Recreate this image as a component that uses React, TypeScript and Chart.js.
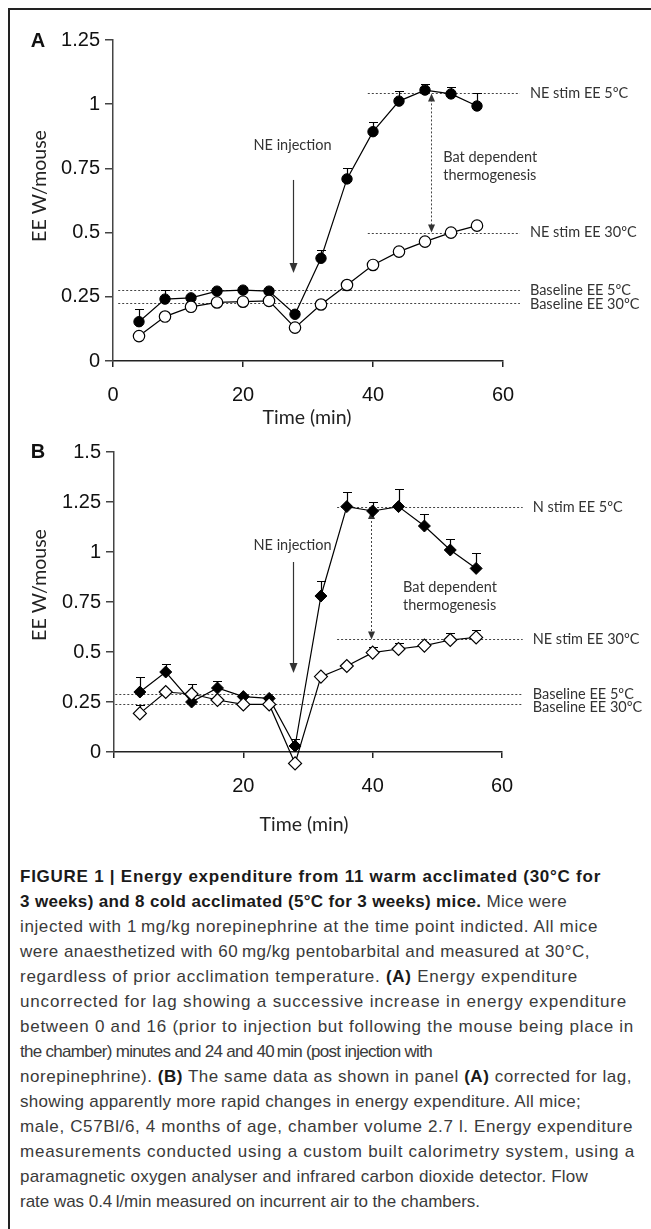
import React, { useEffect, useRef } from 'react';
import { Chart, registerables } from 'chart.js';

Chart.register(...registerables);

// ---------- data ----------
const timeMin = [4, 8, 12, 16, 20, 24, 28, 32, 36, 40, 44, 48, 52, 56];

// Panel A (uncorrected for lag)
const eeA5C = [0.153, 0.241, 0.246, 0.272, 0.276, 0.272, 0.182, 0.40, 0.709, 0.893, 1.012, 1.055, 1.04, 0.993];
const errA5C = [0.049, 0.035, 0.012, 0.01, 0.01, 0.01, 0.012, 0.032, 0.041, 0.036, 0.038, 0.025, 0.028, 0.049];
const eeA30C = [0.097, 0.173, 0.211, 0.228, 0.231, 0.234, 0.13, 0.22, 0.296, 0.374, 0.426, 0.465, 0.50, 0.527];
const errA30C = [0.01, 0.01, 0.01, 0.01, 0.01, 0.01, 0.01, 0.01, 0.01, 0.01, 0.01, 0.01, 0.01, 0.01];

// Panel B (corrected for lag)
const eeB5C = [0.30, 0.40, 0.25, 0.32, 0.277, 0.268, 0.03, 0.78, 1.227, 1.205, 1.227, 1.13, 1.01, 0.918];
const errB5C = [0.077, 0.038, 0.0, 0.035, 0.01, 0.01, 0.035, 0.077, 0.073, 0.043, 0.086, 0.06, 0.055, 0.077];
const eeB30C = [0.193, 0.30, 0.29, 0.26, 0.238, 0.238, -0.057, 0.377, 0.43, 0.497, 0.515, 0.532, 0.56, 0.573];
const errB30C = [0.04, 0.0, 0.05, 0.0, 0.0, 0.0, 0.0, 0.0, 0.01, 0.03, 0.03, 0.02, 0.035, 0.037];

// axes ticks
const xTicksA = [0, 20, 40, 60];
const yTicksA = [0, 0.25, 0.5, 0.75, 1, 1.25];
const xTicksB = [0, 20, 40, 60];
const xTickLabelsB = ['', '20', '40', '60'];
const yTicksB = [0, 0.25, 0.5, 0.75, 1, 1.25, 1.5];

// reference levels
const refValuesA = [1.042, 0.5, 0.276, 0.227];
const refStartsA = [39.2, 39.2, 0.8, 0.8];
const refLabelsA = ['NE stim EE 5\u00BAC', 'NE stim EE 30\u00BAC', 'Baseline EE 5\u00BAC', 'Baseline EE 30\u00BAC'];
const refValuesB = [1.223, 0.563, 0.29, 0.24];
const refStartsB = [34.5, 34.5, 0.2, 0.2];
const refLabelsB = ['N stim EE 5\u00BAC', 'NE stim EE 30\u00BAC', 'Baseline EE 5\u00BAC', 'Baseline EE 30\u00BAC'];

const captionLines: Array<Array<[string, boolean]>> = [
  [['FIGURE 1 | Energy expenditure from 11 warm acclimated (30\u00B0C for', true]],
  [['3 weeks) and 8 cold acclimated (5\u00B0C for 3 weeks) mice.', true], [' Mice were', false]],
  [['injected with 1\u2009mg/kg norepinephrine at the time point indicted. All mice', false]],
  [['were anaesthetized with 60\u2009mg/kg pentobarbital and measured at 30\u00B0C,', false]],
  [['regardless of prior acclimation temperature. ', false], ['(A)', true], [' Energy expenditure', false]],
  [['uncorrected for lag showing a successive increase in energy expenditure', false]],
  [['between 0 and 16 (prior to injection but following the mouse being place in', false]],
  [['the chamber) minutes and 24 and 40\u2009min (post injection with', false]],
  [['norepinephrine). ', false], ['(B)', true], [' The same data as shown in panel ', false], ['(A)', true], [' corrected for lag,', false]],
  [['showing apparently more rapid changes in energy expenditure. All mice;', false]],
  [['male, C57Bl/6, 4 months of age, chamber volume 2.7 l. Energy expenditure', false]],
  [['measurements conducted using a custom built calorimetry system, using a', false]],
  [['paramagnetic oxygen analyser and infrared carbon dioxide detector. Flow', false]],
  [['rate was 0.4\u2009l/min measured on incurrent air to the chambers.', false]],
];
// right edge (page px) of each caption line in the original layout
const captionLineEnds = [601, 567, 598, 590, 578, 627, 634, 392, 632, 581, 633, 635, 588, 480];
const CAPTION_LEFT = 20;

// ---------- drawing helpers ----------
const TICK_FONT = "'Liberation Sans', Arial, sans-serif";
const ANN_FONT = "Lato, 'Open Sans', sans-serif";

function arrowHead(ctx: CanvasRenderingContext2D, x: number, y: number, dir: number, w = 4, l = 9) {
  ctx.beginPath();
  ctx.moveTo(x, y);
  ctx.lineTo(x - w, y - dir * l);
  ctx.lineTo(x + w, y - dir * l);
  ctx.closePath();
  ctx.fill();
}

function makePlugin(o: any) {
  return {
    id: 'annot',
    beforeDatasetsDraw(chart: any) {
      const { ctx } = chart;
      const x = chart.scales.x;
      const y = chart.scales.y;
      ctx.save();
      ctx.strokeStyle = '#444';
      ctx.fillStyle = '#333';
      ctx.lineWidth = 1;
      ctx.setLineDash([2, 2]);
      const endPx = x.getPixelForValue(o.refEnd);
      o.refValues.forEach((v: number, i: number) => {
        const py = Math.round(y.getPixelForValue(v)) + 0.5;
        ctx.beginPath();
        ctx.moveTo(x.getPixelForValue(o.refStarts[i]), py);
        ctx.lineTo(endPx, py);
        ctx.stroke();
      });
      // dotted bat arrow
      const bx = Math.round(x.getPixelForValue(o.bat.x)) + 0.5;
      const bTop = y.getPixelForValue(o.bat.top);
      const bBot = y.getPixelForValue(o.bat.bottom);
      ctx.beginPath();
      ctx.moveTo(bx, bTop + 6);
      ctx.lineTo(bx, bBot - 6);
      ctx.stroke();
      ctx.setLineDash([]);
      ctx.fillStyle = '#333';
      arrowHead(ctx, bx, bBot, 1, 3.5, 8);
      arrowHead(ctx, bx, bTop, -1, 3.5, 8);

      // error bars (upper only)
      ctx.strokeStyle = '#000';
      ctx.lineWidth = 1.2;
      o.errSets.forEach((set: any) => {
        set.values.forEach((v: number, i: number) => {
          const e = set.errs[i];
          if (!e) return;
          const px = Math.round(x.getPixelForValue(timeMin[i])) + 0.5;
          const p0 = y.getPixelForValue(v);
          const p1 = Math.round(y.getPixelForValue(v + e)) + 0.5;
          ctx.beginPath();
          ctx.moveTo(px, p0);
          ctx.lineTo(px, p1);
          ctx.moveTo(px - 4.5, p1);
          ctx.lineTo(px + 4.5, p1);
          ctx.stroke();
        });
      });
      ctx.restore();
    },
    afterDatasetsDraw(chart: any) {
      const { ctx } = chart;
      const x = chart.scales.x;
      const y = chart.scales.y;
      const area = chart.chartArea;
      ctx.save();

      // markers that fall below the plotting area (Chart.js skips them)
      chart.data.datasets.forEach((ds: any, di: number) => {
        const meta = chart.getDatasetMeta(di);
        meta.data.forEach((pt: any) => {
          if (pt.y <= area.bottom) return;
          const r = ds.pointRadius;
          ctx.beginPath();
          if (ds.pointStyle === 'rectRot') {
            ctx.moveTo(pt.x - r, pt.y);
            ctx.lineTo(pt.x, pt.y - r);
            ctx.lineTo(pt.x + r, pt.y);
            ctx.lineTo(pt.x, pt.y + r);
            ctx.closePath();
          } else {
            ctx.arc(pt.x, pt.y, r, 0, Math.PI * 2);
          }
          ctx.fillStyle = ds.pointBackgroundColor;
          ctx.strokeStyle = ds.pointBorderColor;
          ctx.lineWidth = ds.pointBorderWidth;
          ctx.fill();
          ctx.stroke();
        });
      });

      ctx.fillStyle = '#333';
      ctx.font = `14.5px ${ANN_FONT}`;
      ctx.textBaseline = 'middle';
      ctx.textAlign = 'left';
      const endPx = x.getPixelForValue(o.refEnd);
      o.refValues.forEach((v: number, i: number) => {
        ctx.fillText(o.refLabels[i], endPx + 10, y.getPixelForValue(v) + o.labelDy[i]);
      });
      // bat text
      ctx.fillText('Bat dependent', x.getPixelForValue(o.batText.x), y.getPixelForValue(o.batText.y) - 9);
      ctx.fillText('thermogenesis', x.getPixelForValue(o.batText.x), y.getPixelForValue(o.batText.y) + 9);

      // injection arrow
      const ix = Math.round(x.getPixelForValue(o.inj.x)) + 0.5;
      ctx.textAlign = 'center';
      ctx.fillText('NE injection', ix - 1, y.getPixelForValue(o.inj.text));
      ctx.strokeStyle = '#333';
      ctx.lineWidth = 1.2;
      const iTop = y.getPixelForValue(o.inj.top);
      const iBot = y.getPixelForValue(o.inj.bottom);
      ctx.beginPath();
      ctx.moveTo(ix, iTop);
      ctx.lineTo(ix, iBot - 6);
      ctx.stroke();
      arrowHead(ctx, ix, iBot, 1, 4, 10);

      // axis titles
      ctx.fillStyle = '#222';
      ctx.font = `19.5px ${ANN_FONT}`;
      ctx.textAlign = 'center';
      ctx.fillText('Time (min)', o.xTitle[0], o.xTitle[1]);
      ctx.save();
      ctx.translate(o.yTitle[0], o.yTitle[1]);
      ctx.rotate(-Math.PI / 2);
      ctx.fillText('EE W/mouse', 0, 0);
      ctx.restore();

      // panel letter
      ctx.font = `bold 20px ${TICK_FONT}`;
      ctx.fillStyle = '#111';
      ctx.fillText(o.letter, o.letterPos[0], o.letterPos[1]);
      ctx.restore();
    },
  };
}

function makeConfig(p: any) {
  const fmt = (v: number) => String(Number(v.toFixed(2)));
  return {
    type: 'line',
    data: {
      labels: timeMin,
      datasets: [
        {
          data: timeMin.map((t, i) => ({ x: t, y: p.open[i] })),
          borderColor: '#000',
          borderWidth: 1.2,
          backgroundColor: '#fff',
          pointBackgroundColor: '#fff',
          pointBorderColor: '#000',
          pointBorderWidth: 1.2,
          pointRadius: p.openRadius,
          pointStyle: p.pointStyle,
          tension: 0,
          clip: false,
          order: 0,
        },
        {
          data: timeMin.map((t, i) => ({ x: t, y: p.filled[i] })),
          borderColor: '#000',
          borderWidth: 1.2,
          backgroundColor: '#000',
          pointBackgroundColor: '#000',
          pointBorderColor: '#000',
          pointBorderWidth: 1,
          pointRadius: p.filledRadius,
          pointStyle: p.pointStyle,
          tension: 0,
          clip: false,
          order: 1,
        },
      ],
    },
    options: {
      responsive: false,
      animation: false,
      events: [],
      layout: { padding: p.padding },
      plugins: { legend: { display: false }, tooltip: { enabled: false }, title: { display: false } },
      scales: {
        x: {
          type: 'linear',
          min: 0,
          max: 60,
          afterFit: (s: any) => { s.height = p.xHeight; },
          afterBuildTicks: (s: any) => { s.ticks = p.xTicks.map((v: number) => ({ value: v })); },
          ticks: {
            autoSkip: false,
            maxRotation: 0,
            padding: 16,
            color: '#111',
            font: { family: TICK_FONT, size: 20 },
            callback: (v: number) => {
              const i = p.xTicks.indexOf(v);
              return p.xTickLabels ? p.xTickLabels[i] : String(v);
            },
          },
          grid: { drawOnChartArea: false, drawTicks: true, tickLength: 6, color: '#222', lineWidth: 1.5 },
          border: { display: true, color: '#222', width: 1.5 },
        },
        y: {
          type: 'linear',
          min: 0,
          max: p.yMax,
          afterFit: (s: any) => { s.width = p.yWidth; },
          afterBuildTicks: (s: any) => { s.ticks = p.yTicks.map((v: number) => ({ value: v })); },
          ticks: {
            autoSkip: false,
            padding: 5,
            color: '#111',
            font: { family: TICK_FONT, size: 20 },
            callback: (v: number) => fmt(v),
          },
          grid: { drawOnChartArea: false, drawTicks: true, tickLength: 8, color: '#444', lineWidth: 1.5 },
          border: { display: true, color: '#444', width: 1.5 },
        },
      },
    },
    plugins: [makePlugin(p.annot)],
  } as any;
}

export default function App() {
  const refA = useRef<HTMLCanvasElement>(null);
  const refB = useRef<HTMLCanvasElement>(null);
  const capRef = useRef<HTMLDivElement>(null);

  useEffect(() => {
    const chartA = new Chart(refA.current as HTMLCanvasElement, makeConfig({
      filled: eeA5C,
      open: eeA30C,
      pointStyle: 'circle',
      filledRadius: 5.2,
      openRadius: 5.7,
      padding: { left: 0, right: 148, top: 40, bottom: 0 },
      xHeight: 79,
      yWidth: 113,
      yMax: 1.25,
      xTicks: xTicksA,
      yTicks: yTicksA,
      annot: {
        refValues: refValuesA,
        refStarts: refStartsA,
        refLabels: refLabelsA,
        labelDy: [0, 0, 0, 2],
        refEnd: 62.6,
        errSets: [
          { values: eeA5C, errs: errA5C },
          { values: eeA30C, errs: errA30C },
        ],
        bat: { x: 48.9, top: 1.042, bottom: 0.5 },
        batText: { x: 50.8, y: 0.76 },
        inj: { x: 27.7, top: 0.705, bottom: 0.343, text: 0.841 },
        xTitle: [307, 418],
        yTitle: [40, 186],
        letter: 'A',
        letterPos: [38, 41],
      },
    }));
    const chartB = new Chart(refB.current as HTMLCanvasElement, makeConfig({
      filled: eeB5C,
      open: eeB30C,
      pointStyle: 'rectRot',
      filledRadius: 6,
      openRadius: 6.5,
      padding: { left: 0, right: 149, top: 22, bottom: 0 },
      xHeight: 98,
      yWidth: 114,
      yMax: 1.5,
      xTicks: xTicksB,
      xTickLabels: xTickLabelsB,
      yTicks: yTicksB,
      annot: {
        refValues: refValuesB,
        refStarts: refStartsB,
        refLabels: refLabelsB,
        labelDy: [0, 0, 0, 3],
        refEnd: 63.2,
        errSets: [
          { values: eeB5C, errs: errB5C },
          { values: eeB30C, errs: errB30C },
        ],
        bat: { x: 39.7, top: 1.205, bottom: 0.563 },
        batText: { x: 44.7, y: 0.78 },
        inj: { x: 27.7, top: 0.95, bottom: 0.395, text: 1.035 },
        xTitle: [304, 395],
        yTitle: [40, 155],
        letter: 'B',
        letterPos: [38, 22],
      },
    }));

    // fit every caption line to (about) its original length
    const cap = capRef.current;
    if (cap) {
      const lines = Array.from(cap.querySelectorAll('[data-line]')) as HTMLElement[];
      lines.forEach((el, i) => {
        el.style.letterSpacing = '0px';
        const w = el.getBoundingClientRect().width;
        const n = (el.textContent || '').length;
        const target = captionLineEnds[i] - CAPTION_LEFT;
        if (n > 0) {
          const ls = Math.max(-0.7, (target - w) / n);
          el.style.letterSpacing = `${ls.toFixed(3)}px`;
        }
      });
    }

    return () => {
      chartA.destroy();
      chartB.destroy();
    };
  }, []);

  return (
    <div style={{ position: 'absolute', left: 0, top: 0, width: 651, height: 1229, background: '#fff', overflow: 'hidden' }}>
      <div style={{ position: 'absolute', left: 8, top: 8, right: 0, bottom: 0, borderTop: '2px solid #222', borderLeft: '2px solid #222' }} />
      <canvas ref={refA} width={651} height={440} style={{ position: 'absolute', left: 0, top: 0, width: 651, height: 440 }} />
      <canvas ref={refB} width={651} height={420} style={{ position: 'absolute', left: 0, top: 430, width: 651, height: 420 }} />
      <div
        ref={capRef}
        style={{
          position: 'absolute',
          left: CAPTION_LEFT,
          top: 864,
          fontFamily: TICK_FONT,
          fontSize: 17,
          lineHeight: '25px',
          color: '#3a3a3a',
          whiteSpace: 'nowrap',
        }}
      >
        {captionLines.map((line, i) => (
          <div key={i} style={{ height: 25 }}>
            <span data-line="1" style={{ display: 'inline-block' }}>
              {line.map(([t, b], j) => (
                <span key={j} style={b ? { fontWeight: 'bold', color: '#1a1a1a' } : undefined}>{t}</span>
              ))}
            </span>
          </div>
        ))}
      </div>
    </div>
  );
}
